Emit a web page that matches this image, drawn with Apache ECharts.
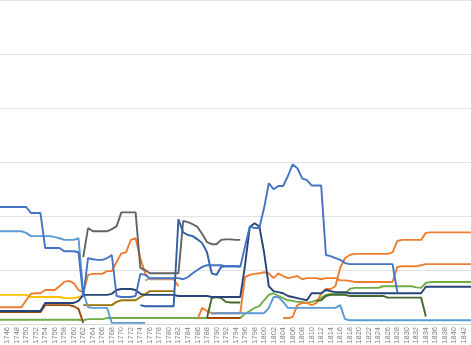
<!DOCTYPE html>
<html><head><meta charset="utf-8">
<script src="https://cdn.jsdelivr.net/npm/echarts@6/dist/echarts.min.js"></script>
<style>html,body{margin:0;padding:0;background:#fff}#c{width:471px;height:345px}</style>
</head><body><div id="c"></div>
<script>
const firstYear = 1744, lastYear = 1844;
const years = [];
for (let y = firstYear; y <= lastYear; y++) years.push(String(y));

// Values; each series starts at the given year
const blueMainStart = 1744;
const blueMain = [21.7,21.7,21.7,21.7,21.7,21.7,21.7,20.6,20.6,20.6,
 14.1,14.1,14.1,14.1,13.5,13.5,13.5,13.3,5.0,12.2,
 12.0,11.9,11.9,12.2,12.8,5.2,5.0,5.0,5.0,5.2,
 9.3,9.1,8.5,8.5,8.5,8.5,8.5,8.5,8.5,8.3,
 8.7,9.4,10.0,10.6,10.9,10.9,10.9,10.9,10.7,10.7,
 10.7,10.6,14.4,18.1,17.8,17.8,21.5,26.1,25.0,25.6,
 25.6,27.4,29.6,28.9,27.0,26.7,25.7,25.7,25.7,12.8,
 12.6,12.2,11.9,11.3,11.1,11.1,11.1,11.1,11.1,11.1,
 11.1,11.1,11.1,11.1,5.9];

const blueSpikeStart = 1774;
const blueSpike = [3.5,3.3,3.3,3.3,3.3,3.3,3.3,3.3,19.4,17.0,16.5,16.3,15.7,15.0,13.3,9.4,9.1,10.6,10.7,10.7,10.7,10.7];

const lightBlueStart = 1744;
const lightBlue = [17.2,17.2,17.2,17.2,17.2,17.2,16.9,16.3,16.3,16.3,
 16.3,16.3,16.1,15.9,15.6,15.6,15.6,15.9,5.9,3.1,
 3.0,3.0,3.0,3.0,0.2,0.2,0.2,0.2,0.2,0.2,
 0.2,0.2,null,null,null,null,null,null,null,null,
 null,null,null,null,null,1.9,2.0,2.0,2.0,2.0,
 2.0,2.0,2.0,2.0,2.0,2.0,2.0,3.0,5.0,5.0,
 4.1,3.0,3.0,3.0,3.0,3.0,3.0,3.0,3.0,3.0,
 3.0,3.0,3.5,0.9,0.7,0.7,0.7,0.7,0.7,0.7,
 0.7,0.7,0.7,0.7,0.7,0.7,0.7,0.7,0.7,0.7,
 0.7,0.7,0.7,0.7,0.7,0.7,0.7,0.7,0.7,0.7,
 0.7];

const yellowStart = 1744;
const yellow = [5.4,5.4,5.4,5.4,5.4,5.4,5.4,5.0,5.0,5.0,5.0,5.0,5.0,5.0,4.8,4.8,4.8,5.0,5.2];

const orange1Start = 1744;
const orange1 = [3.1,3.1,3.1,3.1,3.1,3.1,4.4,5.6,5.7,5.7,
 6.3,6.3,6.3,7.0,7.8,8.0,7.6,6.3,5.9,9.1,
 9.3,9.3,9.3,9.8,9.8,11.5,13.1,13.3,15.6,15.9,
 12.2,9.4,8.3,8.3,8.3,8.3,8.3,8.3,7.0,null,
 null,null,0.9,3.0,2.4,2.0,2.0,2.0,2.0,2.0,
 2.0,2.0,8.7,9.1,9.3,9.4,9.6,9.4,8.5,9.4,
 8.9,8.5,8.7,8.9,8.3,8.5,8.5,8.5,8.3,8.5,
 8.5,8.5,8.1,8.1,8.0,7.8,7.8,7.8,7.8,7.8,
 7.8,7.8,7.8,7.8,10.6,10.7,10.7,10.7,10.7,10.9,
 11.1,11.1,11.1,11.1,11.1,11.1,11.1,11.1,11.1,11.1,
 11.1];

const orange2Start = 1804;
const orange2 = [1.1,1.1,1.3,3.5,3.9,3.9,3.5,3.9,5.6,6.5,6.5,7.0,10.4,12.2,12.8,
 13.0,13.0,13.0,13.0,13.0,13.0,13.0,13.0,13.3,15.4,15.6,15.6,15.6,15.6,15.6,16.9,
 17.0,17.0,17.0,17.0,17.0,17.0,17.0,17.0,17.0,17.0];

const darkGrayStart = 1762;
const darkGray = [12.4,17.8,17.2,17.2,17.2,17.2,17.6,18.1,20.7,20.7,20.7,20.7,10.4,10.0,
 9.4,9.4,9.4,9.4,9.4,9.4,9.4,19.1,18.9,18.5,18.0,16.7,15.2,14.8,14.8,15.6,15.7,15.7,15.6,15.6];

const lightGrayStart = 1775;
const lightGray = [8.1,8.4,8.4,8.4,8.4,8.4,8.4];

const navyStart = 1744;
const navy = [2.4,2.4,2.4,2.4,2.4,2.4,2.4,2.4,2.4,2.4,
 3.9,3.9,3.9,3.9,3.9,3.9,3.9,4.3,5.4,5.4,
 5.4,5.4,5.4,5.4,5.6,6.3,6.5,6.5,6.5,6.3,
 5.6,5.4,5.4,5.4,5.4,5.4,5.4,5.4,5.2,5.2,
 5.2,5.2,5.2,5.2,5.2,5.0,5.0,5.0,5.0,5.0,
 5.0,5.0,10.9,18.0,18.7,18.1,13.3,7.0,6.1,5.9,
 5.7,5.2,5.0,4.8,4.6,4.4,5.7,5.7,5.7,6.3,
 6.1,5.9,5.9,5.9,5.7,5.7,5.7,5.7,5.7,5.7,
 5.7,5.7,5.7,5.7,5.7,5.7,5.7,5.7,5.7,5.7,
 6.9,6.9,6.9,6.9,6.9,6.9,6.9,6.9,6.9,6.9,
 6.9];

const oliveStart = 1762;
const olive = [3.5,3.5,3.5,3.5,3.5,3.5,3.5,4.1,4.4,4.4,4.4,4.4,5.0,5.5,6.1,6.1,6.1,6.1,6.1,6.1];

const brownStart = 1744;
const brown = [2.2,2.2,2.2,2.2,2.2,2.2,2.2,2.2,2.2,2.2,
 3.5,3.5,3.5,3.5,3.5,3.5,3.3,2.8,0.2,
 null,null,null,null,null,null,null,null,null,null,null,null,null,
 null,null,null,null,null,null,null,null,null,null,null,null,
 1.1,1.1,1.1,1.1,1.1,1.1,1.1,1.1];

const greenStart = 1744;
const green = [0.8,0.8,0.8,0.8,0.8,0.8,0.8,0.8,0.8,0.8,
 0.8,0.8,0.8,0.8,0.8,0.8,0.8,0.8,0.7,0.9,
 0.9,0.9,0.9,1.1,1.1,1.1,1.1,1.1,1.1,1.1,
 1.1,1.1,1.1,1.1,1.1,1.1,1.1,1.1,1.1,1.1,
 1.1,1.1,1.1,1.1,1.1,1.1,1.1,1.1,1.1,1.1,
 1.1,1.1,1.9,2.4,3.0,3.3,4.4,5.4,5.7,5.2,
 4.8,4.4,4.3,4.1,4.1,3.9,4.1,4.4,4.8,5.4,
 5.6,5.6,5.6,5.6,6.5,6.7,6.7,6.7,6.7,6.7,
 6.7,7.0,7.0,7.0,7.0,7.0,7.0,7.0,6.8,6.7,
 7.6,7.8,7.8,7.8,7.8,7.8,7.8,7.8,7.8,7.8,
 7.8];

const darkGreenStart = 1788;
const darkGreen = [1.1,4.8,5.0,4.8,4.1,4.0,4.0,4.0,
 null,null,null,null,null,null,null,null,null,null,null,null,null,null,null,
 4.3,4.4,5.2,5.4,5.4,5.4,5.4,
 5.2,5.2,5.2,5.2,5.2,5.2,5.2,5.2,
 4.9,4.9,4.9,4.9,4.9,4.9,4.9,4.9,1.4];

function place(start, vals) {
  const out = years.map(() => null);
  vals.forEach((v, i) => { out[start - firstYear + i] = v; });
  return out;
}

const seriesDefs = [
  ['green', greenStart, green, '#70AD47'],
  ['brown', brownStart, brown, '#9E480E'],
  ['yellow', yellowStart, yellow, '#FFC000'],
  ['olive', oliveStart, olive, '#997300'],
  ['orange1', orange1Start, orange1, '#ED7D31'],
  ['lightGray', lightGrayStart, lightGray, '#A5A5A5'],
  ['darkGray', darkGrayStart, darkGray, '#636363'],
  ['orange2', orange2Start, orange2, '#ED7D31'],
  ['darkGreen', darkGreenStart, darkGreen, '#43682B'],
  ['lightBlue', lightBlueStart, lightBlue, '#5B9BD5'],
  ['navy', navyStart, navy, '#264478'],
  ['blueSpike', blueSpikeStart, blueSpike, '#2F5FA8'],
  ['blueMain', blueMainStart, blueMain, '#4472C4']
];

const chart = echarts.init(document.getElementById('c'), null, {renderer: 'canvas'});
chart.setOption({
  animation: false,
  backgroundColor: '#ffffff',
  grid: {left: -2.38, width: 475.8, top: 0.5, height: 323.5, containLabel: false, outerBoundsMode: 'none'},
  xAxis: {
    type: 'category', data: years, boundaryGap: false,
    axisLine: {show: true, lineStyle: {color: '#D9D9D9', width: 1}},
    axisTick: {show: false},
    axisLabel: {
      interval: (i, v) => (+v % 2 === 0) && +v > firstYear && +v < lastYear,
      rotate: 90, fontSize: 7.5, color: '#7f7f7f', margin: 3,
      fontFamily: 'Liberation Sans'
    },
    splitLine: {show: false}
  },
  yAxis: {
    type: 'value', min: 0, max: 60, interval: 10,
    axisLabel: {show: false}, axisLine: {show: false}, axisTick: {show: false},
    splitLine: {show: true, lineStyle: {color: '#E2E2E2', width: 1}}
  },
  series: seriesDefs.map(([name, start, vals, color]) => ({
    name, type: 'line', data: place(start, vals), symbol: 'none',
    connectNulls: false, lineStyle: {color, width: 1.9}, itemStyle: {color}
  }))
});
</script></body></html>
